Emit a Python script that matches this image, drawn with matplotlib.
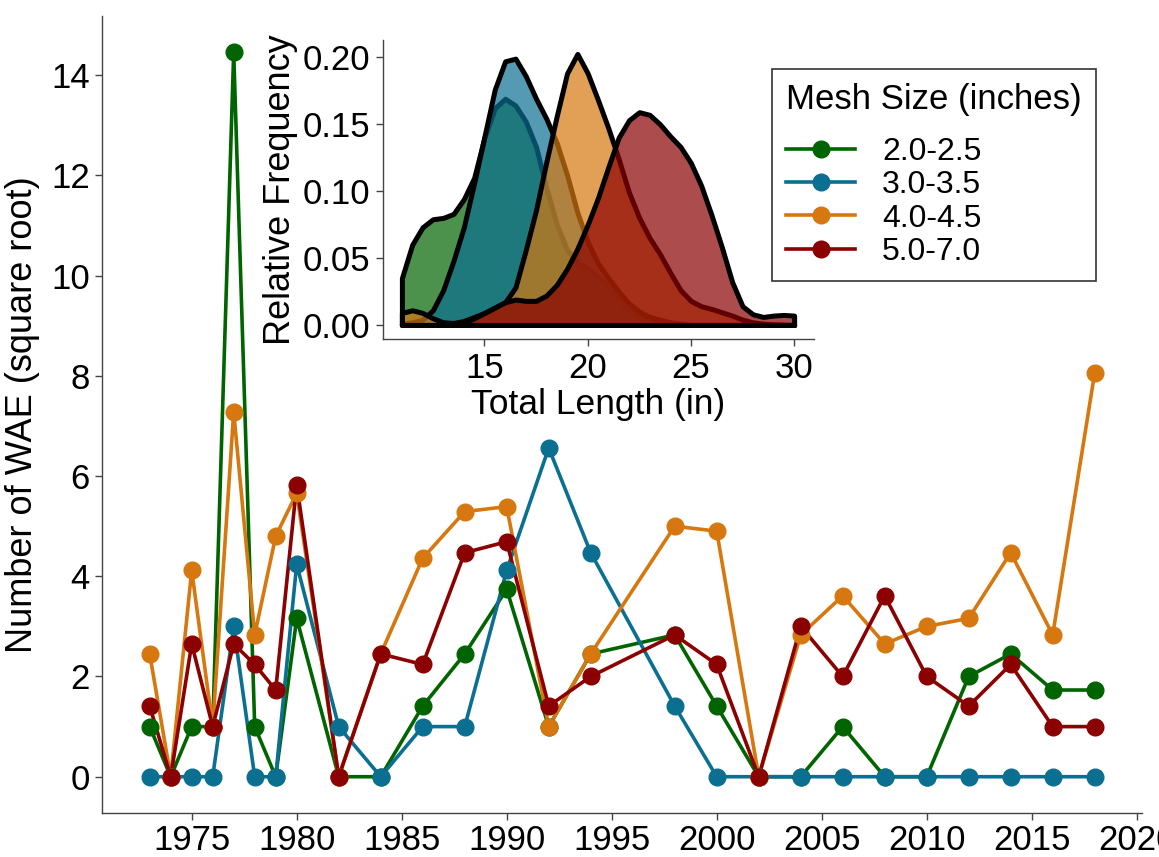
import matplotlib.pyplot as plt
from matplotlib.colors import to_rgba

plt.rcParams['font.family'] = ['Liberation Sans', 'DejaVu Sans']

# survey years and square-root catch of walleye for each mesh size
years = [1973, 1974, 1975, 1976, 1977, 1978, 1979, 1980, 1982, 1984, 1986, 1988,
         1990, 1992, 1994, 1998, 2000, 2002, 2004, 2006, 2008, 2010, 2012, 2014,
         2016, 2018]
wae_2_0 = [1.0, 0.0, 1.0, 1.0, 14.46, 1.0, 0.0, 3.16, 0.0, 0.0, 1.41, 2.45,
           3.74, 1.0, 2.45, 2.83, 1.41, 0.0, 0.0, 1.0, 0.0, 0.0, 2.0, 2.45,
           1.73, 1.73]
wae_3_0 = [0.0, 0.0, 0.0, 0.0, 3.0, 0.0, 0.0, 4.24, 1.0, 0.0, 1.0, 1.0,
           4.12, 6.56, 4.47, 1.41, 0.0, 0.0, 0.0, 0.0, 0.0, 0.0, 0.0, 0.0,
           0.0, 0.0]
wae_4_0 = [2.45, 0.0, 4.12, 1.0, 7.28, 2.83, 4.80, 5.66, 0.0, 2.45, 4.36, 5.29,
           5.39, 1.0, 2.45, 5.0, 4.90, 0.0, 2.83, 3.61, 2.65, 3.0, 3.16, 4.47,
           2.83, 8.06]
wae_5_0 = [1.41, 0.0, 2.65, 1.0, 2.65, 2.24, 1.73, 5.83, 0.0, 2.45, 2.24, 4.47,
           4.69, 1.41, 2.0, 2.83, 2.24, 0.0, 3.0, 2.0, 3.61, 2.0, 1.41, 2.24,
           1.0, 1.0]

mesh_labels = ['2.0-2.5', '3.0-3.5', '4.0-4.5', '5.0-7.0']
mesh_colors = ['#006400', '#0b6f92', '#d6780f', '#8b0000']

# length-frequency densities (total length in inches)
length_in = [11.0, 11.5, 12.0, 12.5, 13.0, 13.5, 14.0, 14.5, 15.0, 15.5,
             16.0, 16.5, 17.0, 17.5, 18.0, 18.5, 19.0, 19.5, 20.0, 20.5,
             21.0, 21.5, 22.0, 22.5, 23.0, 23.5, 24.0, 24.5, 25.0, 25.5,
             26.0, 26.5, 27.0, 27.5, 28.0, 28.5, 29.0, 29.5, 30.0]
dens_2_0 = [0.035, 0.060, 0.073, 0.079, 0.080, 0.083, 0.094, 0.110, 0.140, 0.162,
            0.169, 0.164, 0.152, 0.133, 0.102, 0.075, 0.056, 0.047, 0.042, 0.036,
            0.029, 0.019, 0.011, 0.006, 0.003, 0.002, 0.001, 0.0, 0.0, 0.0,
            0.0, 0.0, 0.0, 0.0, 0.0, 0.0, 0.0, 0.0, 0.0]
dens_3_0 = [0.001, 0.002, 0.004, 0.011, 0.026, 0.048, 0.073, 0.106, 0.141, 0.176,
            0.197, 0.199, 0.186, 0.169, 0.154, 0.136, 0.112, 0.084, 0.062, 0.046,
            0.035, 0.025, 0.016, 0.010, 0.006, 0.004, 0.002, 0.001, 0.0, 0.0,
            0.0, 0.0, 0.0, 0.0, 0.0, 0.0, 0.0, 0.0, 0.0]
dens_4_0 = [0.009, 0.011, 0.009, 0.005, 0.002, 0.0015, 0.003, 0.006, 0.009, 0.013,
            0.017, 0.028, 0.056, 0.086, 0.122, 0.156, 0.188, 0.2025, 0.188, 0.168,
            0.147, 0.124, 0.099, 0.080, 0.065, 0.053, 0.039, 0.026, 0.018, 0.014,
            0.012, 0.0095, 0.007, 0.004, 0.002, 0.001, 0.0005, 0.0002, 0.0]
dens_5_0 = [0.0, 0.0, 0.0, 0.0, 0.0, 0.0005, 0.002, 0.005, 0.009, 0.013,
            0.017, 0.019, 0.018, 0.018, 0.022, 0.030, 0.042, 0.057, 0.075, 0.095,
            0.118, 0.140, 0.153, 0.159, 0.157, 0.150, 0.141, 0.133, 0.121, 0.104,
            0.082, 0.058, 0.032, 0.014, 0.008, 0.006, 0.007, 0.0075, 0.007]

catch_series = [wae_2_0, wae_3_0, wae_4_0, wae_5_0]
dens_series = [dens_2_0, dens_3_0, dens_4_0, dens_5_0]

fig = plt.figure(figsize=(11.59, 8.57), dpi=100)

# main time series: all lines first, points on top
ax = fig.add_axes([0.0884, 0.0514, 0.8969, 0.9299])
for vals, col in zip(catch_series, mesh_colors):
    ax.plot(years, vals, color=col, linewidth=2.6, zorder=2)
for vals, col, lab in zip(catch_series, mesh_colors, mesh_labels):
    ax.plot(years, vals, color=col, marker='o', markersize=12,
            linestyle='none', zorder=3)
    # legend proxy with line + point
    ax.plot([], [], color=col, linewidth=2.6, marker='o', markersize=12, label=lab)

ax.set_xlim(1970.75, 2020.25)
ax.set_ylim(-0.723, 15.18)
ax.set_xticks(range(1975, 2021, 5))
ax.set_yticks(range(0, 15, 2))
ax.set_ylabel('Number of WAE (square root)', fontsize=26, labelpad=8)
for side in ['top', 'right']:
    ax.spines[side].set_visible(False)
for side in ['left', 'bottom']:
    ax.spines[side].set_color('#444444')
    ax.spines[side].set_linewidth(1.0)
ax.tick_params(axis='both', labelsize=25, length=5, width=1.0, color='#444444',
               pad=4)
ax.tick_params(axis='x', pad=3)

leg = ax.legend(title='Mesh Size (inches)', loc='upper left',
                bbox_to_anchor=(772 / 1159, 1 - 69 / 857),
                bbox_transform=fig.transFigure, borderaxespad=0,
                fontsize=23, title_fontsize=25, frameon=True, fancybox=False,
                edgecolor='black', handlelength=2.15, handletextpad=0.85,
                labelspacing=0.1, borderpad=0.45, alignment='left')
leg.get_frame().set_linewidth(1.2)
# extra gap between the legend title and the entries
leg._legend_box.sep = 15

# inset: length-frequency distributions
ax_in = fig.add_axes([0.3302, 0.6041, 0.3719, 0.3492])
for dens, col in zip(dens_series, mesh_colors):
    ax_in.fill_between(length_in, dens, 0, facecolor=to_rgba(col, 0.7),
                       edgecolor='black', linewidth=3.6, joinstyle='round')
ax_in.set_xlim(10.07, 30.95)
ax_in.set_ylim(-0.0107, 0.2129)
ax_in.set_xticks([15, 20, 25, 30])
ax_in.set_yticks([0.0, 0.05, 0.10, 0.15, 0.20])
ax_in.set_yticklabels(['0.00', '0.05', '0.10', '0.15', '0.20'])
ax_in.set_xlabel('Total Length (in)', fontsize=25.5, labelpad=2)
ax_in.set_ylabel('Relative Frequency', fontsize=26, labelpad=3)
for side in ['top', 'right']:
    ax_in.spines[side].set_visible(False)
for side in ['left', 'bottom']:
    ax_in.spines[side].set_color('#444444')
    ax_in.spines[side].set_linewidth(1.0)
ax_in.tick_params(axis='both', labelsize=25, length=5, width=1.0,
                  color='#444444', pad=4)
ax_in.patch.set_alpha(0)

fig.savefig('out.png', dpi=100)
